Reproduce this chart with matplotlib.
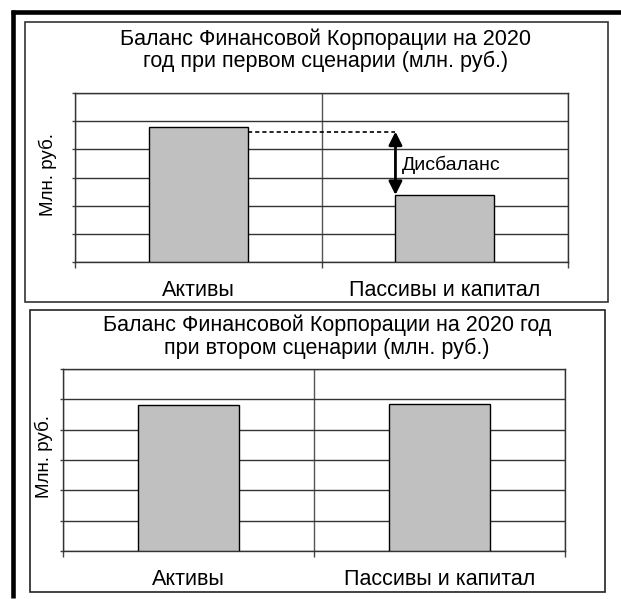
import matplotlib
matplotlib.use('Agg')
import matplotlib.pyplot as plt
from matplotlib.lines import Line2D
from matplotlib.patches import Rectangle

plt.rcParams['font.family'] = ['Liberation Sans', 'DejaVu Sans']

# data (gridlines every 1 unit, no value labels shown)
categories = ['Активы', 'Пассивы и капитал']
scenario1_values = [4.8, 2.38]
scenario2_values = [4.8, 4.85]
imbalance_level = 4.63
y_max = 6

title1 = 'Баланс Финансовой Корпорации на 2020\nгод при первом сценарии (млн. руб.)'
title2 = 'Баланс Финансовой Корпорации на 2020 год\nпри втором сценарии (млн. руб.)'
ylabel = 'Млн. руб.'
imbalance_label = 'Дисбаланс'

W, H = 621, 599
fig = plt.figure(figsize=(W / 100, H / 100), dpi=100)


def px(x, y):
    """pixel position (from top-left) -> figure fraction"""
    return x / W, 1 - y / H


def axes_box(x0, y0, x1, y1):
    return [x0 / W, 1 - y1 / H, (x1 - x0) / W, (y1 - y0) / H]


def frame(x0, y0, x1, y1, lw, color):
    fx, fy = px(x0, y1)
    fig.patches.append(Rectangle((fx, fy), (x1 - x0) / W, (y1 - y0) / H,
                                 transform=fig.transFigure, fill=False,
                                 lw=lw, edgecolor=color, zorder=0))


def style_axes(ax, values):
    x = range(len(categories))
    ax.bar(x, values, width=0.4, color='#c0c0c0', edgecolor='black',
           linewidth=1, zorder=3)
    ax.set_xlim(-0.5, len(categories) - 0.5)
    ax.set_ylim(0, y_max)
    ax.set_yticks(range(y_max + 1))
    ax.set_yticklabels([])
    ax.set_xticks(list(x))
    ax.set_xticklabels(categories, fontsize=15.5)
    ax.set_xticks([-0.5, 0.5, 1.5], minor=True)
    ax.tick_params(axis='x', which='major', length=0, pad=13)
    ax.tick_params(axis='x', which='minor', length=4, width=1, color='#444')
    ax.tick_params(axis='y', length=2, width=1, color='#444')
    ax.grid(axis='y', color='#333', linewidth=1, zorder=0)
    ax.grid(axis='x', which='minor', color='#555', linewidth=1, zorder=0)
    for sp in ax.spines.values():
        sp.set_color('#333')
        sp.set_linewidth(1)


# outer thick page border (top and left only)
fig.add_artist(Line2D([px(11, 0)[0], 1], [px(0, 12)[1]] * 2,
                      transform=fig.transFigure, color='black', lw=3.3,
                      solid_capstyle='butt'))
fig.add_artist(Line2D([px(13, 0)[0]] * 2, [px(0, 10)[1], px(0, 598)[1]],
                      transform=fig.transFigure, color='black', lw=3.3,
                      solid_capstyle='butt'))

# chart boxes
frame(25, 22, 608, 302, 1.2, '#333')
frame(30, 310, 605, 592, 1.2, '#222')

# first scenario
ax1 = fig.add_axes(axes_box(75, 93, 568, 262))
style_axes(ax1, scenario1_values)
half = 0.2
ax1.plot([0 + half, 1 - half], [imbalance_level, imbalance_level],
         color='black', lw=1.2, ls=(0, (2.5, 1.8)), zorder=4)
ax1.annotate('', xy=(1 - half, scenario1_values[1]),
             xytext=(1 - half, imbalance_level),
             arrowprops=dict(arrowstyle='<|-|>', color='black', lw=2,
                             mutation_scale=20, shrinkA=0, shrinkB=0),
             zorder=5)
ax1.text(1 - half + 0.025, (imbalance_level + scenario1_values[1]) / 2 - 0.05,
         imbalance_label, fontsize=14, ha='left', va='center', zorder=5)

fig.text(*px(325, 39), title1.split('\n')[0], fontsize=15.5, ha='center', va='center')
fig.text(*px(326, 61), title1.split('\n')[1], fontsize=15.5, ha='center', va='center')
fig.text(*px(48, 175), ylabel, fontsize=13.5, rotation=90, ha='center', va='center')

# second scenario
ax2 = fig.add_axes(axes_box(63, 369, 565, 551))
style_axes(ax2, scenario2_values)

fig.text(*px(327, 325), title2.split('\n')[0], fontsize=15.5, ha='center', va='center')
fig.text(*px(327, 348), title2.split('\n')[1], fontsize=15.5, ha='center', va='center')
fig.text(*px(44, 457), ylabel, fontsize=13.5, rotation=90, ha='center', va='center')

fig.savefig('out.png', dpi=100)
